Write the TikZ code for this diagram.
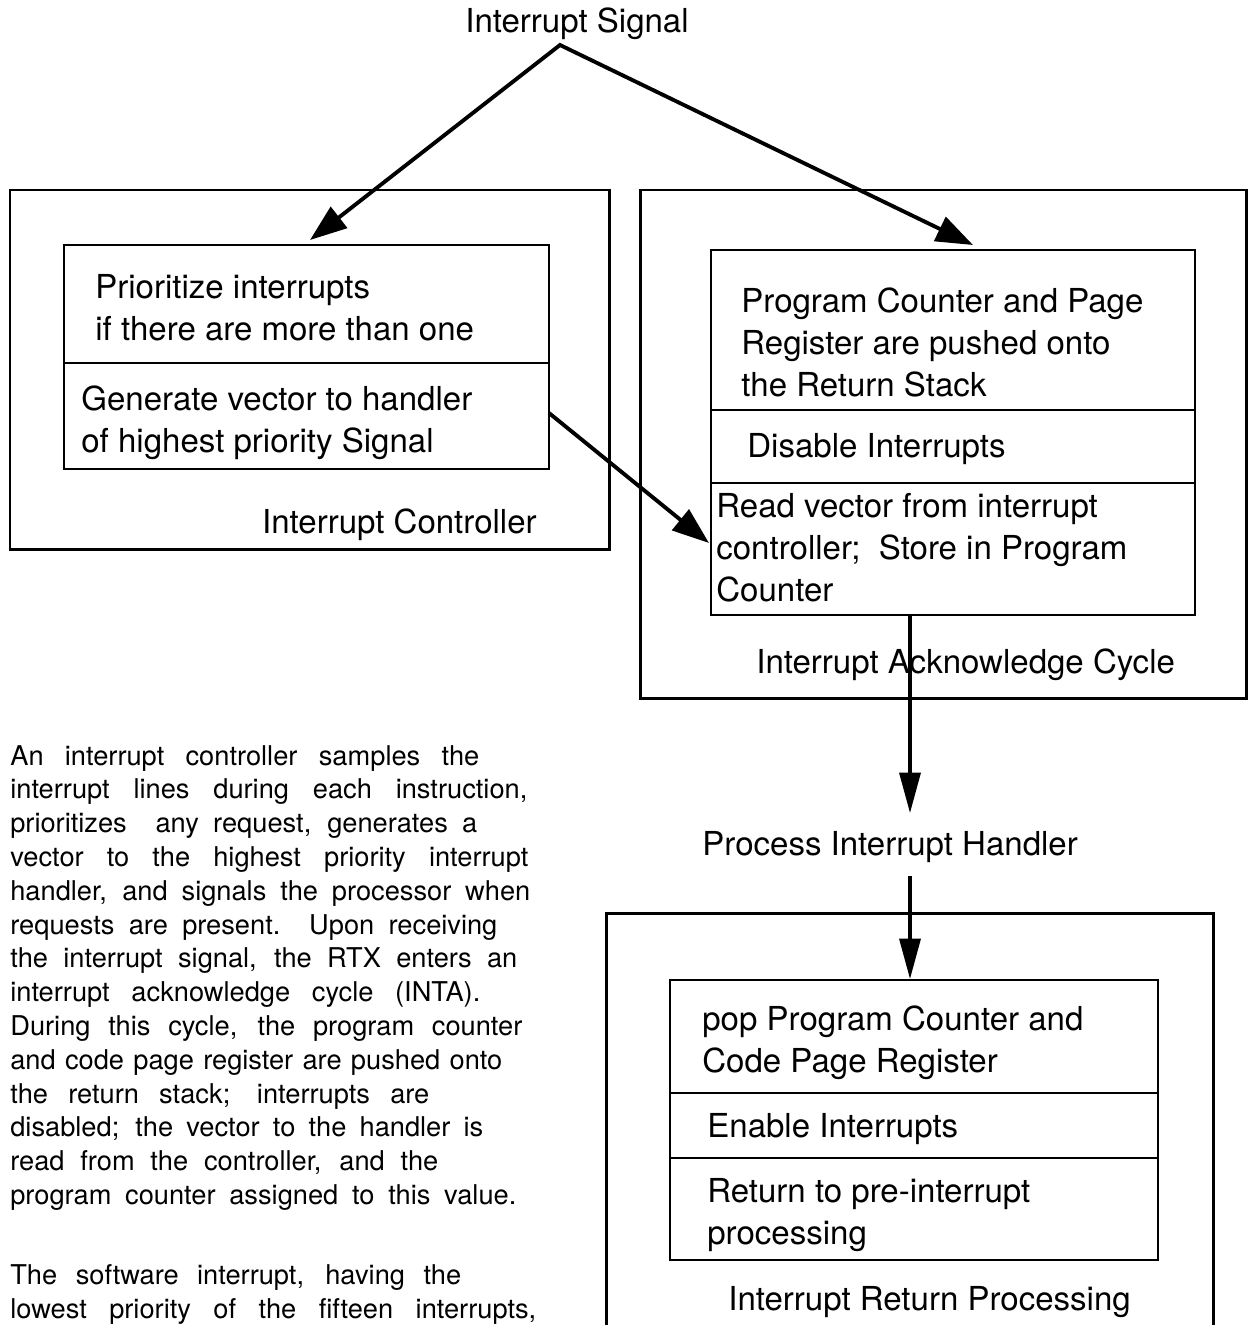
\documentclass[tikz,border=0pt]{standalone}
\usepackage{fontspec}
\setmainfont{TeX Gyre Heros}
\usetikzlibrary{arrows.meta}
\tikzset{
  frame/.style={line width=1.7pt},
  cell/.style={line width=1.6pt},
  head/.tip={Triangle[length=21pt,width=15pt]},
  flow/.style={line width=2.2pt,-head},
  drop/.style={line width=1.8pt,-{Triangle[length=23pt,width=12pt]}},
  lbl/.style={anchor=base west,inner sep=0pt,font=\fontsize{18.8}{23.8}\selectfont},
  para/.style={anchor=base west,inner sep=0pt,font=\fontsize{15.5}{19}\selectfont},
}
\begin{document}
\begin{tikzpicture}[x=0.02cm,y=-0.02cm]
\useasboundingbox (0,0) rectangle (1252,1325);
\def\lh{42} % line step inside the boxes
% interrupt controller
\draw[frame] (10,190) rectangle (609,549);
\draw[cell] (64,245) rectangle (549,469) (64,363) -- (549,363);
\foreach \t [count=\i from 0] in {Prioritize interrupts, if there are more than one}
  \node[lbl] (prio-\i) at (95,298+\lh*\i) {\t};
\foreach \t [count=\i from 0] in {Generate vector to handler, of highest priority Signal}
  \node[lbl] (gen-\i) at (81,410+\lh*\i) {\t};
\node[lbl,anchor=base east] (ctl) at (537,533) {Interrupt Controller};
% acknowledge cycle
\draw[frame] (640,190) rectangle (1246,698);
\draw[cell] (711,250) rectangle (1195,615) (711,410) -- (1195,410) (711,483) -- (1195,483);
\foreach \t [count=\i from 0] in {Program Counter and Page, Register are pushed onto, the Return Stack}
  \node[lbl] (push-\i) at (741,312+\lh*\i) {\t};
\node[lbl] (dis) at (747,457) {Disable Interrupts};
\foreach \t [count=\i from 0] in {Read vector from interrupt, {controller;\ \ Store in Program}, Counter}
  \node[lbl] (read-\i) at (716,517+\lh*\i) {\t};
\node[lbl] (ack) at (756,673) {Interrupt Acknowledge Cycle};
% handler and return
\node[lbl] (hdl) at (702,855) {Process Interrupt Handler};
\draw[frame] (606,1340) -- (606,913) -- (1213,913) -- (1213,1340);
\draw[cell] (670,980) rectangle (1158,1260) (670,1093) -- (1158,1093) (670,1158) -- (1158,1158);
\foreach \t [count=\i from 0] in {pop Program Counter and, Code Page Register}
  \node[lbl] (pop-\i) at (702,1030+\lh*\i) {\t};
\node[lbl] (ena) at (707,1137) {Enable Interrupts};
\foreach \t [count=\i from 0] in {Return to pre-interrupt, processing}
  \node[lbl] (ret-\i) at (707,1202+\lh*\i) {\t};
\node[lbl] (retp) at (728,1310) {Interrupt Return Processing};
% signal and arrows
\node[lbl] (sig) at (465,32) {Interrupt Signal};
\coordinate (apex) at (560,45);
\coordinate (ctl-top) at (310,240);
\coordinate (ack-top) at (973,245);
\coordinate (gen-out) at (549,413);
\coordinate (read-in) at (709,543);
\coordinate (ack-out) at (910,615);
\coordinate (hdl-top) at (910,813);
\coordinate (hdl-bot) at (910,876);
\coordinate (ret-top) at (910,979);
\draw[flow,head-head] (ctl-top) -- (apex) -- (ack-top);
\draw[flow] (gen-out) -- (read-in);
\draw[drop] (ack-out) -- (hdl-top);
\draw[drop] (hdl-bot) -- (ret-top);
% text beside the diagram
\foreach \e/\t [count=\i from 0] in {
  479/{An interrupt controller samples the},
  527/{interrupt lines during each instruction,},
  477/{prioritizes\ \ any request, generates a},
  528/{vector to the highest priority interrupt},
  530/{handler, and signals the processor when},
  497/{requests are present.\ \ Upon receiving},
  517/{the interrupt signal, the RTX enters an},
  480/{interrupt acknowledge cycle (INTA).},
  522/{During this cycle, the program counter},
  502/{and code page register are pushed onto},
  429/{the return stack; interrupts are},
  483/{disabled; the vector to the handler is},
  438/{read from the controller, and the},
  516/{program counter assigned to this value.}}
{
  \pgfmathsetmacro\w{(\e-10)*0.02}
  \node[para] (txt-\i) at (10,{765+33.8*\i}) {\makebox[\w cm][s]{\t}};
}
\node[para] (sw-0) at (10,1284) {\makebox[9.02cm][s]{The software interrupt, having the}};
\node[para] (sw-1) at (10,1318) {\makebox[10.52cm][s]{lowest priority of the fifteen interrupts,}};
\end{tikzpicture}
\end{document}
